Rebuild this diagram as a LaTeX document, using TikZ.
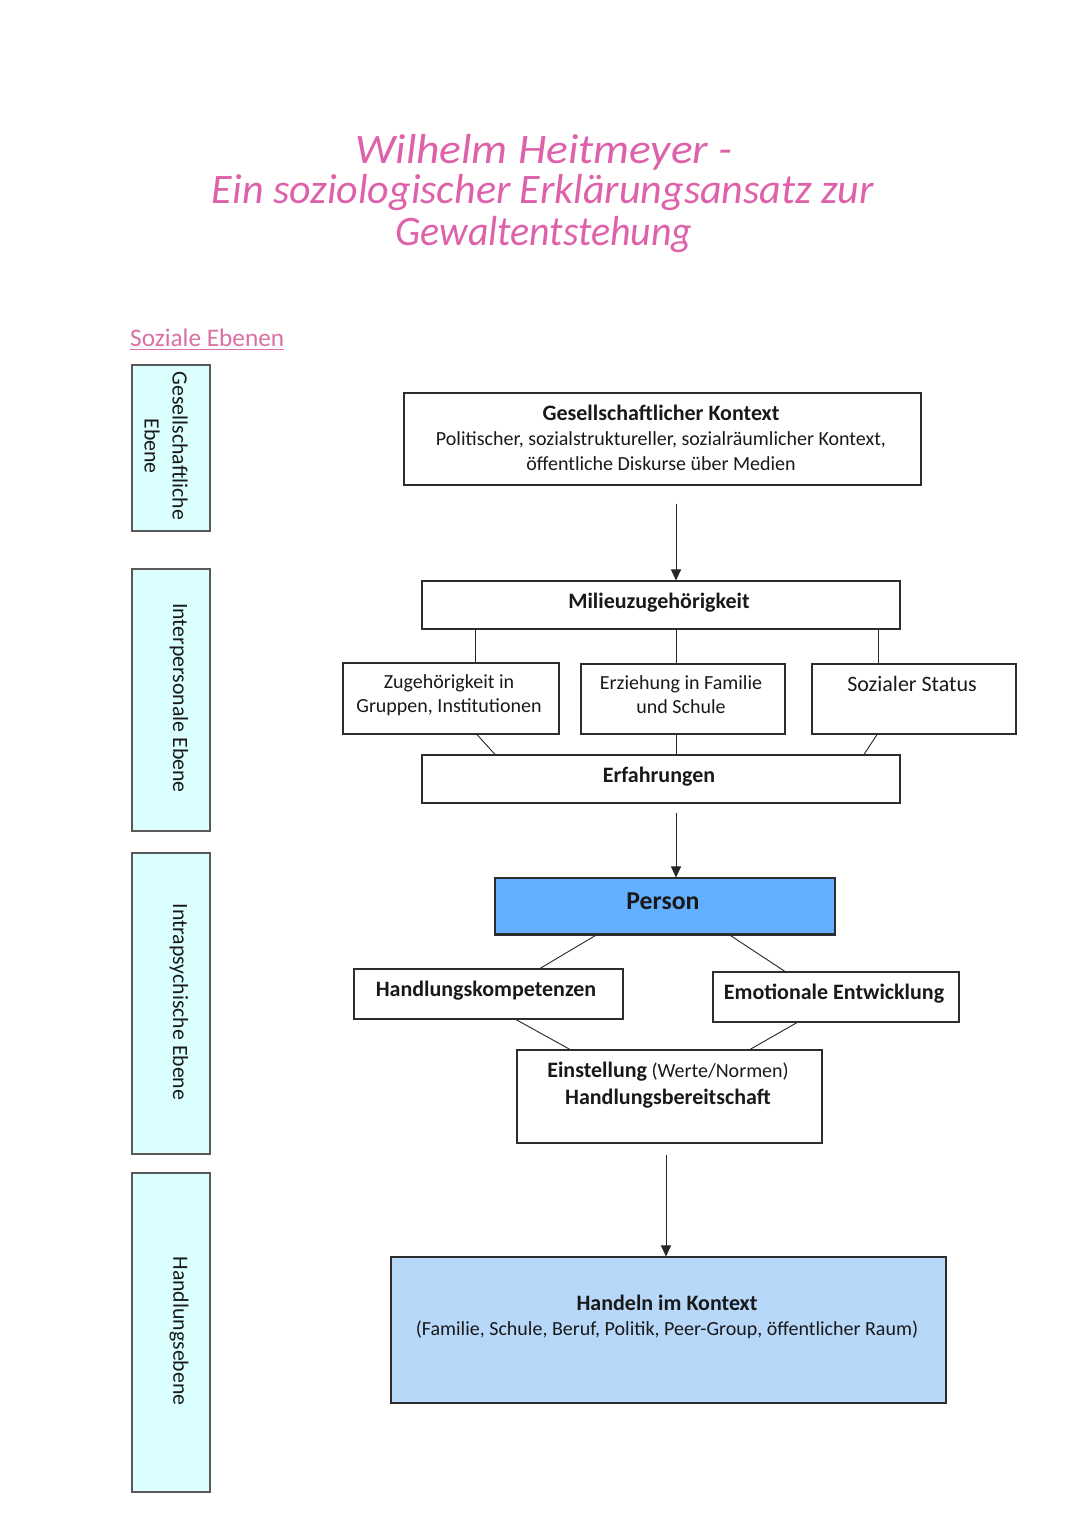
\documentclass[tikz,border=0pt]{standalone}
\usepackage{fontspec}
\setmainfont{Carlito}
\usetikzlibrary{arrows.meta,calc}
\definecolor{titlepink}{RGB}{222,98,170}
\definecolor{subpink}{RGB}{218,112,165}
\definecolor{levelfill}{RGB}{218,255,254}
\definecolor{personfill}{RGB}{98,176,255}
\definecolor{handfill}{RGB}{184,216,250}
\definecolor{edge}{RGB}{45,45,45}
\newcommand\bigbf[1]{{\fontsize{22}{25}\selectfont\bfseries #1}}
\tikzset{
 box/.style={draw=edge, line width=1.1pt, inner sep=0pt, rectangle},
 levelbox/.style={box, fill=levelfill, draw=black!65},
 body/.style={font=\fontsize{20}{25}\selectfont, align=center, inner sep=0pt, text=black!90},
 boldtxt/.style={body, font=\fontsize{22}{25}\selectfont\bfseries},
 conn/.style={draw=black!85, line width=0.9pt},
 arr/.style={conn, -{Triangle[length=11pt,width=10pt]}},
 lvltext/.style={font=\fontsize{21.8}{28}\selectfont, align=center, rotate=-90, inner sep=0pt, text=black!90},
 titletxt/.style={font=\fontsize{42}{46}\selectfont\itshape, text=titlepink, inner sep=0pt},
}
\newcommand\boxat[6]{\node[#2, minimum width={(#5-#3)*1pt}, minimum height={(#6-#4)*1pt}] (#1) at ({(#3+#5)/2},{(#4+#6)/2}) {};}
\begin{document}
\begin{tikzpicture}[x=1pt,y=-1pt]
\useasboundingbox[fill=white] (0,0) rectangle (1080,1527);
% title
\node[titletxt, xscale=1.08] (t1) at (544,152) {Wilhelm Heitmeyer -};
\node[titletxt] (t2) at (543,193) {Ein soziologischer Erklärungsansatz zur};
\node[titletxt, xscale=0.95] (t3) at (544,235) {Gewaltentstehung};
\node[font=\fontsize{25.3}{28}\selectfont, text=subpink, anchor=west, inner sep=0pt] (se) at (130,338) {Soziale Ebenen};
\draw[subpink, line width=1pt] ($(se.south west)+(0,2)$) -- ($(se.south east)+(0,2)$);
% level boxes
\boxat{l1}{levelbox}{132}{365}{210}{531}
\boxat{l2}{levelbox}{132}{569}{210}{831}
\boxat{l3}{levelbox}{132}{853}{210}{1154}
\boxat{l4}{levelbox}{132}{1173}{210}{1492}
\node[lvltext] (l1t) at (166,446) {Gesellschaftliche\\Ebene};
\node[lvltext] (l2t) at (179,698) {Interpersonale Ebene};
\node[lvltext] (l3t) at (179,1002) {Intrapsychische Ebene};
\node[lvltext] (l4t) at (179,1331) {Handlungsebene};
% main boxes
\boxat{kon}{box}{404}{393}{921}{485}
\node[body] (kont) at (661,438) {\bigbf{Gesellschaftlicher Kontext}\\Politischer, sozialstruktureller, sozialräumlicher Kontext,\\öffentliche Diskurse über Medien};
\boxat{mil}{box}{422}{581}{900}{629}
\node[boldtxt] (milt) at (659,603) {Milieuzugehörigkeit};
\boxat{zug}{box}{343}{663}{559}{734}
\node[body, font=\fontsize{20}{24}\selectfont] (zugt) at (449,695) {Zugehörigkeit in\\Gruppen, Institutionen};
\boxat{erz}{box}{581}{664}{785}{734}
\node[body, font=\fontsize{20}{24}\selectfont] (erzt) at (681,695) {Erziehung in Familie\\und Schule};
\boxat{soz}{box}{812}{664}{1016}{734}
\node[body, font=\fontsize{22}{25}\selectfont] (sozt) at (912,684) {Sozialer Status};
\boxat{erf}{box}{422}{755}{900}{803}
\node[boldtxt] (erft) at (659,777) {Erfahrungen};
\boxat{per}{box, fill=personfill}{495}{878}{835}{934}
\draw[edge, line width=2.2pt] (per.south west) -- (per.south east);
\node[boldtxt, font=\fontsize{25.8}{28}\selectfont\bfseries] (pert) at (663,901) {Person};
\boxat{hk}{box}{354}{969}{623}{1019}
\node[boldtxt] (hkt) at (486,991) {Handlungskompetenzen};
\boxat{emo}{box}{713}{972}{959}{1022}
\node[boldtxt] (emot) at (834,994) {Emotionale Entwicklung};
\boxat{ein}{box}{517}{1050}{822}{1143}
\node[body, font=\fontsize{20}{27}\selectfont] (eint) at (668,1085) {\bigbf{Einstellung} (Werte/Normen)\\\bigbf{Handlungsbereitschaft}};
\boxat{han}{box, fill=handfill}{391}{1257}{946}{1403}
\node[body] (hant) at (667,1317) {\bigbf{Handeln im Kontext}\\(Familie, Schule, Beruf, Politik, Peer-Group, öffentlicher Raum)};
% connectors
\draw[arr] ([xshift=13.5pt,yshift=-18pt]kon.south) -- ([xshift=15pt]mil.north);
\draw[conn] ([xshift=-186pt]mil.south) -- ([xshift=24pt]zug.north);
\draw[conn] ([xshift=15pt]mil.south) -- ([xshift=-7pt]erz.north);
\draw[conn] ([xshift=217pt]mil.south) -- ([xshift=-36pt]soz.north);
\draw[conn] ([xshift=26pt]zug.south) -- ([xshift=-166pt]erf.north);
\draw[conn] ([xshift=-7pt]erz.south) -- ([xshift=15pt]erf.north);
\draw[conn] ([xshift=-37pt]soz.south) -- ([xshift=203pt]erf.north);
\draw[arr] ([xshift=15pt,yshift=-9pt]erf.south) -- ([xshift=11pt]per.north);
\draw[conn] ([xshift=-68pt]per.south) -- ([xshift=51.5pt]hk.north);
\draw[conn] ([xshift=64pt]per.south) -- ([xshift=-51pt]emo.north);
\draw[conn] ([xshift=27.5pt]hk.south) -- ([xshift=-99.5pt]ein.north);
\draw[conn] ([xshift=-39pt]emo.south) -- ([xshift=80.5pt]ein.north);
\draw[arr] ([xshift=-3.5pt,yshift=-11pt]ein.south) -- ([xshift=-2.5pt]han.north);
\end{tikzpicture}
\end{document}
